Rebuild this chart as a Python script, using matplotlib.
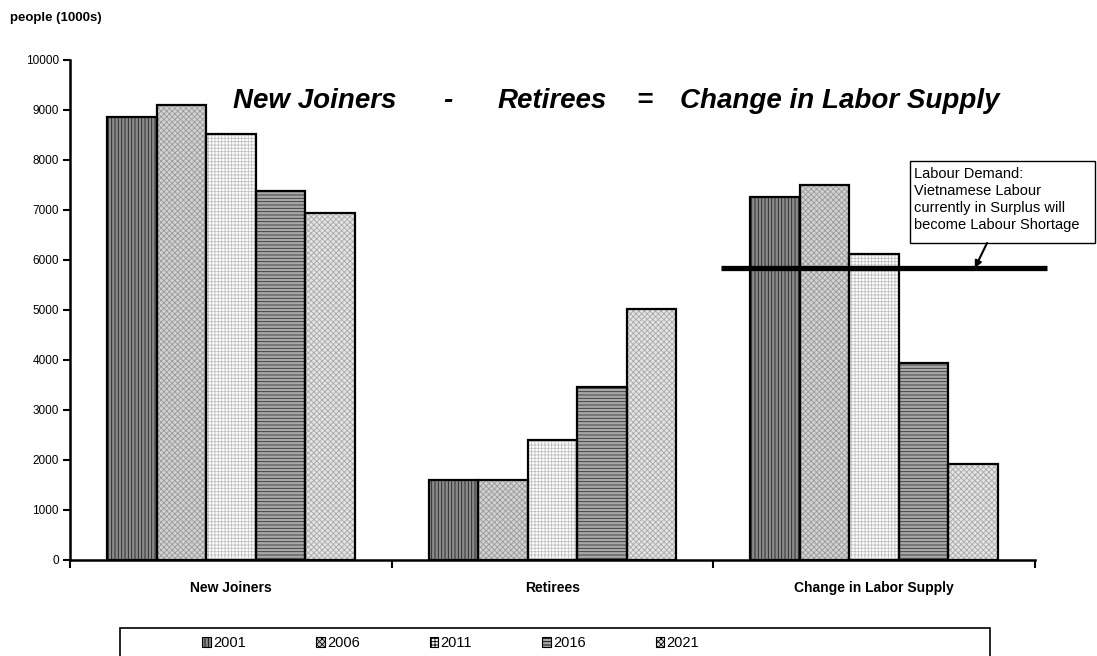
import matplotlib
matplotlib.use("Agg")
import matplotlib.pyplot as plt
from matplotlib.patches import Patch, Rectangle
import numpy as np

plt.rcParams['font.family'] = ['Liberation Sans', 'DejaVu Sans']
plt.rcParams['hatch.linewidth'] = 0.6

categorias = ["New Joiners", "Retirees", "Change in Labor Supply"]
anos = ["2001", "2006", "2011", "2016", "2021"]
v2001 = [8860, 1600, 7260]
v2006 = [9100, 1600, 7500]
v2011 = [8520, 2400, 6120]
v2016 = [7380, 3460, 3940]
v2021 = [6940, 5020, 1920]
demanda = 5840

series = [v2001, v2006, v2011, v2016, v2021]
# cor de fundo, cor da hachura, padrão para cada ano
estilos = [
    ("#8a8a8a", "#222222", "|||||"),
    ("#d2d2d2", "#9a9a9a", "xxxxxx"),
    ("#ffffff", "#c0c0c0", "+++++"),
    ("#a8a8a8", "#333333", "-----"),
    ("#e4e4e4", "#a8a8a8", "xxxxxx"),
]

fig = plt.figure(figsize=(10.97, 6.56), dpi=100)
ax = fig.add_axes([70/1097, 96/656, 965/1097, 500/656])

x = np.arange(len(categorias))
largura = 0.154
for i, (vals, (fc, hc, ht)) in enumerate(zip(series, estilos)):
    pos = x + (i - 2) * largura
    ax.bar(pos, vals, largura, color=fc, edgecolor=hc, hatch=ht, linewidth=0, zorder=2)
    ax.bar(pos, vals, largura, fill=False, edgecolor="black", linewidth=1.6, zorder=3)

ax.set_xlim(-0.5, 2.5)
ax.set_ylim(0, 10000)
ax.set_yticks(np.arange(0, 10001, 1000))
ax.tick_params(axis='y', labelsize=8.5, length=5, width=1.5, direction='out', pad=3)
ax.set_xticks([-0.5, 0.5, 1.5, 2.5])
ax.set_xticklabels([])
ax.tick_params(axis='x', length=6, width=1.5, direction='out')
for xi, nome in zip(x, categorias):
    ax.text(xi, -420, nome, ha='center', va='top', fontsize=10, fontweight='bold')

for s in ['top', 'right']:
    ax.spines[s].set_visible(False)
for s in ['left', 'bottom']:
    ax.spines[s].set_linewidth(1.8)

# linha da demanda de trabalho
ax.hlines(demanda, 1.524, 2.537, color='black', linewidth=3.8, zorder=4, clip_on=False)
ax.add_patch(Rectangle((2.11, 6340), 0.575, 1640, facecolor='white', edgecolor='black',
                       linewidth=1, zorder=5, clip_on=False))
ax.text(2.125, 7870, "Labour Demand:\nVietnamese Labour\ncurrently in Surplus will\nbecome Labour Shortage",
        ha='left', va='top', fontsize=10.5, linespacing=1.3, zorder=6, clip_on=False)
ax.annotate("", xy=(2.313, demanda), xytext=(2.351, 6340),
            arrowprops=dict(arrowstyle='-|>', color='black', linewidth=1.5, mutation_scale=10,
                            shrinkA=0, shrinkB=0), zorder=5)

# título em forma de equação
titulo = dict(fontsize=20, fontweight='bold', fontstyle='italic', va='baseline', ha='left')
yt = 1 - 108/656
fig.text(233/1097, yt, "New Joiners", **titulo)
fig.text(443/1097, yt, "-", **titulo)
fig.text(498/1097, yt, "Retirees", **titulo)
fig.text(636/1097, yt, "=", **titulo)
fig.text(680/1097, yt, "Change in Labor Supply", **titulo)

fig.text(10/1097, 1 - 18/656, "people (1000s)", fontsize=9.5, fontweight='bold', va='center')

# caixa da legenda
fig.patches.append(Rectangle((120/1097, -0.05), 870/1097, 0.05 + 1 - 628/656,
                             transform=fig.transFigure, fill=False, edgecolor='black', linewidth=1.2))
handles = [Patch(facecolor=fc, edgecolor='black', hatch=ht, linewidth=0.8) for fc, hc, ht in estilos]
fig.legend(handles, anos, loc='center left', bbox_to_anchor=(195/1097, 1 - 643/656), ncol=5,
           frameon=False, fontsize=10.5, handlelength=0.6, handleheight=0.7, handletextpad=0.15,
           columnspacing=4.8, borderpad=0)

fig.savefig("out.png", dpi=100)
